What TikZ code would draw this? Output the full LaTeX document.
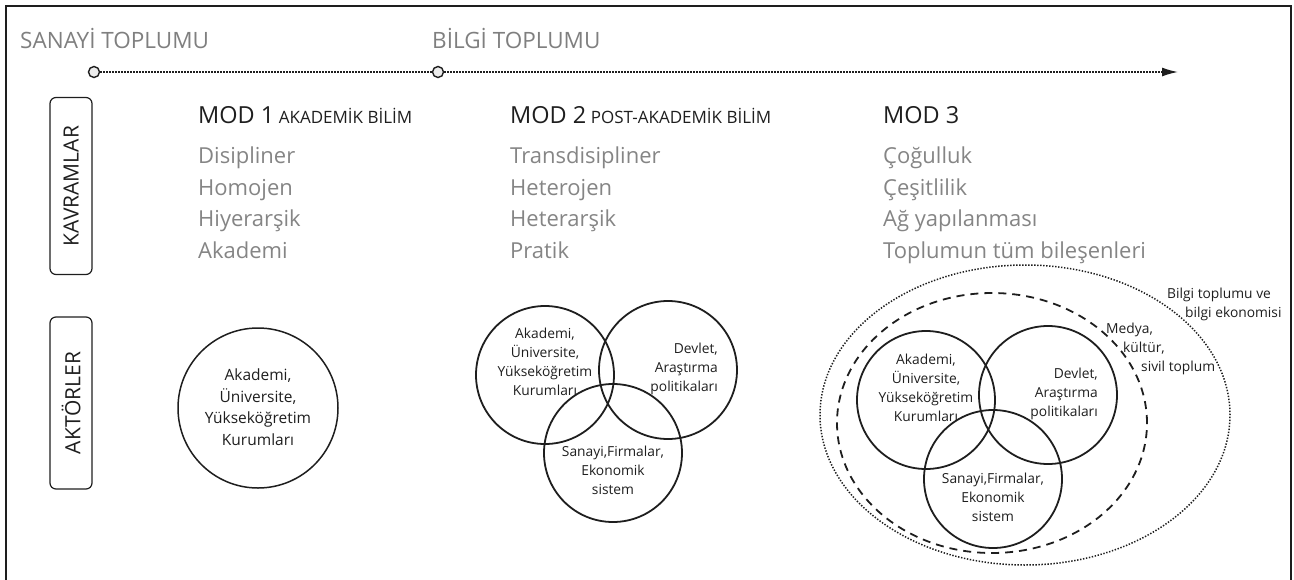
\documentclass[tikz,border=0pt]{standalone}
\usepackage{fontspec}
\setmainfont{Open Sans}
\usetikzlibrary{arrows.meta,shapes.geometric}
\definecolor{conceptgray}{HTML}{858585}
\definecolor{labelgray}{HTML}{7F7F7F}
\definecolor{ink}{HTML}{1E1E1E}
\newcommand{\fsz}[2]{\fontsize{#1}{#2}\selectfont}
\begin{document}
\begin{tikzpicture}[x=1pt,y=-1pt,
  tick/.style={circle,draw=ink,line width=1.4pt,fill=gray!15,minimum size=11pt,inner sep=0},
  sidebox/.style={draw=ink,line width=1.2pt,rounded corners=6pt,rotate=90,minimum height=42pt,inner sep=0,font=\fsz{21}{21},text=ink},
  era/.style={anchor=base west,inner sep=0,text=labelgray,font=\fsz{22.5}{22.5}},
  modhead/.style={anchor=base west,inner sep=0,text=ink},
  concept/.style={anchor=base west,inner sep=0,text=conceptgray,font=\fsz{22}{22}},
  venn/.style={circle,draw=ink,line width=1.8pt,minimum size=138pt,inner sep=0},
  venntext/.style={inner sep=0,text=ink,font=\fsz{13.8}{19}},
  dotline/.style={draw=ink,line width=1.5pt,dash pattern=on 1.4pt off 1.6pt},
]
\useasboundingbox (0,0) rectangle (1294,579);
\draw[ink,line width=1.5pt] (6,600) -- (6,6) -- (1291,6) -- (1291,600);

% timeline
\node[era] (sanayi) at (20,48) {SANAYİ TOPLUMU};
\node[era] (bilgi) at (432,48) {BİLGİ TOPLUMU};
\node[tick] (t1) at (94,72) {};
\node[tick] (t2) at (438,72) {};
\coordinate (tend) at (1178,72);
\draw[dotline] (t1) -- (t2);
\draw[dotline,-{Latex[length=16pt,width=9pt]}] (t2) -- (tend);

% side boxes
\node[sidebox,minimum width=177pt] (kavram) at (71,186) {KAVRAMLAR};
\node[sidebox,minimum width=172pt] (aktor) at (71,403) {AKTÖRLER};

% headings
\node[modhead] (m1) at (198,123) {\fsz{23.5}{23.5}MOD 1{\fsz{17}{17} AKADEMİK BİLİM}};
\node[modhead] (m2) at (510,123) {\fsz{23.5}{23.5}MOD 2{\fsz{17}{17} POST-AKADEMİK BİLİM}};
\node[modhead] (m3) at (883,123) {\fsz{23.5}{23.5}MOD 3};

% concepts
\node[concept] (a1) at (198,163) {Disipliner};
\node[concept] (a2) at (198,195) {Homojen};
\node[concept] (a3) at (198,226) {Hiyerarşik};
\node[concept] (a4) at (198,258) {Akademi};
\node[concept] (b1) at (510,163) {Transdisipliner};
\node[concept] (b2) at (510,195) {Heterojen};
\node[concept] (b3) at (510,226) {Heterarşik};
\node[concept] (b4) at (510,258) {Pratik};
\node[concept] (c1) at (883,163) {Çoğulluk};
\node[concept] (c2) at (883,195) {Çeşitlilik};
\node[concept] (c3) at (883,226) {Ağ yapılanması};
\node[concept] (c4) at (883,258) {Toplumun tüm bileşenleri};

% MOD 1 actor
\node[circle,draw=ink,line width=1.5pt,minimum size=160pt,inner sep=0] (o1) at (258,408) {};
\node[venntext,font=\fsz{15.5}{21.5},align=center] (o1t) at (258,407) {Akademi,\\Üniversite,\\Yükseköğretim\\Kurumları};

% MOD 2 venn
\node[venn] (p1) at (545,375) {};
\node[venn] (p2) at (668,370) {};
\node[venn] (p3) at (613,453) {};
\node[venntext,align=center] (p1t) at (545,362) {Akademi,\\Üniversite,\\Yükseköğretim\\Kurumları};
\node[venntext,align=right,anchor=east] (p2t) at (718,369) {Devlet,\\Araştırma\\politikaları};
\node[venntext,align=center] (p3t) at (613,470) {Sanayi,Firmalar,\\Ekonomik\\sistem};

% MOD 3
\node[ellipse,dotline,minimum width=410pt,minimum height=300pt,inner sep=0] (outer) at (1025,415) {};
\node[ellipse,draw=ink,line width=1.8pt,dash pattern=on 8pt off 6pt,minimum width=310pt,minimum height=260pt,inner sep=0] (inner) at (992,423) {};
\node[venn] (q1) at (926,400) {};
\node[venn] (q2) at (1048,395) {};
\node[venn] (q3) at (993,479) {};
\node[venntext,align=center] (q1t) at (926,388) {Akademi,\\Üniversite,\\Yükseköğretim\\Kurumları};
\node[venntext,align=right,anchor=east] (q2t) at (1098,394) {Devlet,\\Araştırma\\politikaları};
\node[venntext,align=center] (q3t) at (993,497) {Sanayi,Firmalar,\\Ekonomik\\sistem};
\node[venntext,align=left,anchor=north west] (medya) at (1106,323) {Medya,\\\hspace*{17pt}kültür,\\\hspace*{35pt}sivil toplum};
\node[venntext,align=left,anchor=north west] (bilgit) at (1167,288) {Bilgi toplumu ve\\\hspace*{18pt}bilgi ekonomisi};
\end{tikzpicture}
\end{document}
